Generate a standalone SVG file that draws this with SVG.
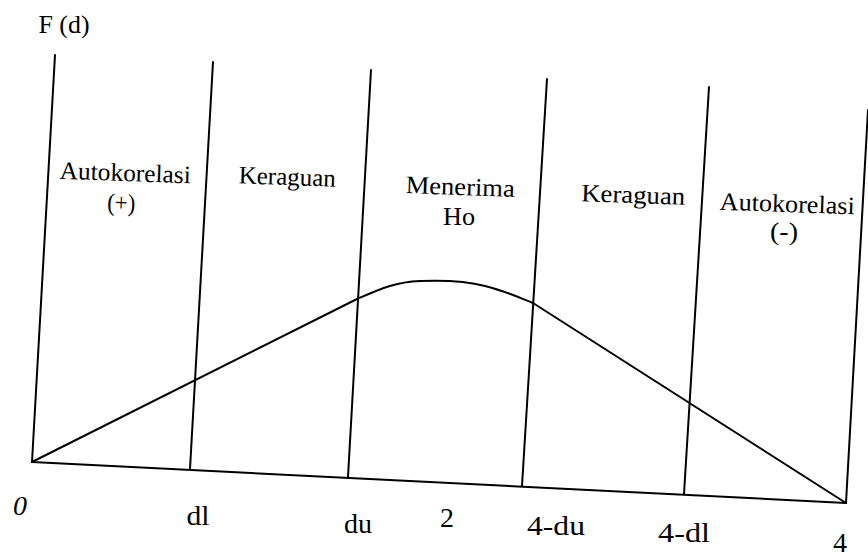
<svg xmlns="http://www.w3.org/2000/svg" width="868" height="557" viewBox="0 0 868 557">
<style>
.ln{stroke:#000;stroke-width:2;fill:none;stroke-linecap:round;stroke-linejoin:round}
.t{font-family:"Liberation Serif","Times New Roman",serif;font-size:25px;fill:#000;text-anchor:middle}
.b{font-family:"Liberation Serif","Times New Roman",serif;font-size:28px;fill:#000;text-anchor:middle}
</style>
<rect width="868" height="557" fill="#fff"/>
<g id="connectors">
<line class="ln" x1="55" y1="55" x2="32" y2="462"/>
<line class="ln" x1="213" y1="62" x2="190" y2="469"/>
<line class="ln" x1="371" y1="70" x2="348" y2="477"/>
<line class="ln" x1="547" y1="79" x2="522" y2="486"/>
<line class="ln" x1="709" y1="87" x2="684" y2="494"/>
<line class="ln" x1="868" y1="110" x2="846" y2="503"/>
<line class="ln" x1="32" y1="462" x2="846" y2="503"/>
<path class="ln" d="M32,462 L357,299 C380,289 395,282 420,281 C445,280 470,282 485,286 C505,291 518,297 533,303 L846,503"/>
</g>
<g id="label-fd"><text class="t" x="64" y="33" textLength="51" lengthAdjust="spacingAndGlyphs">F (d)</text></g>
<g id="region-autokorelasi-plus">
<text class="t" x="125" y="181" transform="rotate(2 125 181)" textLength="131" lengthAdjust="spacingAndGlyphs">Autokorelasi</text>
<text class="t" x="121" y="211" transform="rotate(2 121 211)" textLength="28" lengthAdjust="spacingAndGlyphs">(+)</text>
</g>
<g id="region-keraguan-1"><text class="t" x="287" y="185" transform="rotate(2 287 185)" textLength="97" lengthAdjust="spacingAndGlyphs">Keraguan</text></g>
<g id="region-menerima">
<text class="t" x="460" y="195" transform="rotate(2 460 195)" textLength="109" lengthAdjust="spacingAndGlyphs">Menerima</text>
<text class="t" x="459" y="225" textLength="32" lengthAdjust="spacingAndGlyphs">Ho</text>
</g>
<g id="region-keraguan-2"><text class="t" x="633" y="203" transform="rotate(2 633 203)" textLength="104" lengthAdjust="spacingAndGlyphs">Keraguan</text></g>
<g id="region-autokorelasi-minus">
<text class="t" x="787" y="212" transform="rotate(2 787 212)" textLength="135" lengthAdjust="spacingAndGlyphs">Autokorelasi</text>
<text class="t" x="784" y="240" textLength="28" lengthAdjust="spacingAndGlyphs">(-)</text>
</g>
<g id="axis-labels">
<text class="b" x="20" y="515" font-style="italic">0</text>
<text class="b" x="198" y="525" textLength="23" lengthAdjust="spacingAndGlyphs">dl</text>
<text class="b" x="358" y="533">du</text>
<text class="b" x="447" y="527">2</text>
<text class="b" x="556" y="535" textLength="58" lengthAdjust="spacingAndGlyphs">4-du</text>
<text class="b" x="684" y="542" textLength="52" lengthAdjust="spacingAndGlyphs">4-dl</text>
<text class="b" x="840" y="552">4</text>
</g>
</svg>
